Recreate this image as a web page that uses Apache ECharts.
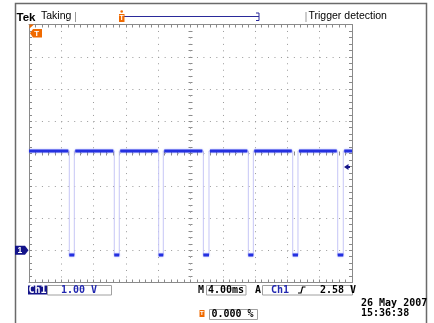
<!DOCTYPE html>
<html>
<head>
<meta charset="utf-8">
<script src="https://cdn.jsdelivr.net/npm/echarts@6/dist/echarts.min.js"></script>
<style>
html,body{margin:0;padding:0;background:#fff;}
#scope{width:434px;height:323px;}
</style>
</head>
<body>
<div id="scope"></div>
<script>
// screen: 10 div x 4.00 ms, 8 div x 1.00 V, ground one div above the bottom
var timeRange=[0,40];
var voltRange=[-1,7];
var highLevel=3.08;
var lowLevel=-0.15;
// edges (ms)
var fallTimes=[4.99,10.56,16.06,21.59,27.16,32.66,38.23];
var riseTimes=[5.61,11.18,16.63,22.29,27.78,33.31,38.92];
var triggerLevel=2.58;
var groundLevel=0;
var headerText=['Tek','Taking','Trigger detection'];
var readoutText=['Ch1','1.00 V','M','4.00ms','A','Ch1','2.58 V','0.000 %'];
var stampText=['26 May 2007','15:36:38'];

var gridGray='#8a8a8a', dotGray='#9a9a9a', navy='#14148a', orange='#f06a00';
var traceBlue='#2430e0', edgeBlue='#c6c6f6';
var gridBox={left:29,top:24.5,width:323,height:258};

var edgeData=[[timeRange[0],highLevel]];
var highData=[], lowData=[];
var start=timeRange[0];
for(var i=0;i<fallTimes.length;i++){
    edgeData.push([fallTimes[i],highLevel],[fallTimes[i],lowLevel],[riseTimes[i],lowLevel],[riseTimes[i],highLevel]);
    highData.push([start,highLevel],[fallTimes[i]-0.12,highLevel],['-','-']);
    lowData.push([fallTimes[i],lowLevel],[riseTimes[i],lowLevel],['-','-']);
    start=riseTimes[i]+0.12;
}
highData.push([start,highLevel],[timeRange[1],highLevel]);
edgeData.push([timeRange[1],highLevel]);

function frameAxis(pos,range,interval,split){
    return {
        type:'value',position:pos,min:range[0],max:range[1],interval:interval,
        axisLine:{show:true,onZero:false,lineStyle:{color:gridGray,width:1}},
        axisTick:{show:true,inside:true,length:3,lineStyle:{color:gridGray}},
        minorTick:{show:true,splitNumber:5,length:3,lineStyle:{color:gridGray}},
        axisLabel:{show:false},
        splitLine:{show:split,lineStyle:{color:dotGray,width:1,type:[1,5.46]}},
        minorSplitLine:{show:false}
    };
}
// tick rows along the centre cross, pulled in from the frame
function centerAxis(pos,range,interval,inside,offset){
    return {
        type:'value',position:pos,offset:offset,min:range[0],max:range[1],interval:interval,
        axisLine:{show:false,onZero:false},
        axisTick:{show:true,inside:inside,length:2,lineStyle:{color:gridGray}},
        minorTick:{show:true,splitNumber:5,length:2,lineStyle:{color:gridGray}},
        axisLabel:{show:false},
        splitLine:{show:false}
    };
}

var chart=echarts.init(document.getElementById('scope'),null,{renderer:'canvas'});

var monoFont='DejaVu Sans Mono';
function txt(x,y,s,color,size,family,weight,z){
    return {type:'text',x:x,y:y,style:{text:s,fill:color,font:(weight||'normal')+' '+size+'px "'+family+'"',verticalAlign:'middle'},z:z||10};
}
function box(x,y,w,h){
    return {type:'rect',shape:{x:x,y:y,width:w,height:h},style:{fill:'#fff',stroke:'#a0a0a0',lineWidth:1},z:9};
}

var staticGraphics=[
    // outer frame
    {type:'polyline',shape:{points:[[15.5,330],[15.5,3.5],[426.5,3.5],[426.5,330]]},style:{stroke:'#6a6a6a',lineWidth:1.5,fill:null},z:5},
    txt(16.5,17.6,headerText[0],'#000',11.5,'Liberation Sans','bold'),
    txt(41,16.6,headerText[1],'#000',10.5,'Liberation Sans'),
    {type:'line',shape:{x1:75.5,y1:12,x2:75.5,y2:22},style:{stroke:'#999',lineWidth:1},z:10},
    {type:'line',shape:{x1:306,y1:12,x2:306,y2:22},style:{stroke:'#999',lineWidth:1},z:10},
    txt(308.5,16.6,headerText[2],'#000',10.5,'Liberation Sans'),
    // record bar
    {type:'line',shape:{x1:124,y1:16.5,x2:259,y2:16.5},style:{stroke:'#2a2a9a',lineWidth:1},z:10},
    {type:'polyline',shape:{points:[[256,13],[259,13],[259,20.5],[256,20.5]]},style:{stroke:'#2a2a9a',lineWidth:1,fill:null},z:10},
    {type:'rect',shape:{x:119,y:14,width:5.5,height:8},style:{fill:orange},z:10},
    {type:'circle',shape:{cx:121.7,cy:11.5,r:1.3},style:{fill:orange},z:10},
    txt(119.6,18.3,'T','#fff',7,'Liberation Sans','bold',13),
    // trigger position marker in graticule
    {type:'polygon',shape:{points:[[29.5,24.5],[34,24.5],[29.5,28.5]]},style:{fill:orange},z:12},
    {type:'polygon',shape:{points:[[30,33.3],[33,29],[42,29],[42,37.6],[33,37.6]]},style:{fill:orange},z:12},
    txt(34.2,33.5,'T','#fff',8,'Liberation Sans','bold',13),
    // bottom readouts
    {type:'rect',shape:{x:28,y:285.5,width:19,height:9},style:{fill:navy},z:10},
    txt(28.5,290.2,readoutText[0],'#fff',10,monoFont,'bold',13),
    box(47.5,285.5,64,9.5),
    txt(61,290.2,readoutText[1],'#2228b0',10,monoFont,'bold'),
    txt(198,290.2,readoutText[2],'#000',10,monoFont,'bold'),
    box(206.5,285.5,39.5,9.5),
    txt(208,290.2,readoutText[3],'#000',10,monoFont,'bold'),
    txt(255,290.2,readoutText[4],'#000',10,monoFont,'bold'),
    box(262.5,285.5,90,9.5),
    txt(271,290.2,readoutText[5],'#2228b0',10,monoFont,'bold'),
    {type:'polyline',shape:{points:[[298,293],[301,293],[302.5,287],[305.5,287]]},style:{stroke:'#000',lineWidth:1.2,fill:null},z:10},
    txt(320,290.2,readoutText[6],'#000',10,monoFont,'bold'),
    {type:'rect',shape:{x:199.5,y:310,width:5,height:7},style:{fill:orange},z:10},
    txt(200.1,313.7,'T','#fff',6,'Liberation Sans','bold',13),
    box(209.5,309.5,48,10),
    txt(211.5,314.5,readoutText[7],'#000',10,monoFont,'bold'),
    txt(361,303.8,stampText[0],'#000',10,monoFont,'bold'),
    txt(361,313.6,stampText[1],'#000',10,monoFont,'bold')
];

var option={
    animation:false,
    backgroundColor:'#fff',
    grid:{left:gridBox.left,top:gridBox.top,width:gridBox.width,height:gridBox.height,show:false,containLabel:false,outerBoundsMode:'none'},
    xAxis:[
        frameAxis('bottom',timeRange,4,true),
        frameAxis('top',timeRange,4,false),
        centerAxis('bottom',timeRange,4,true,-gridBox.height/2),
        centerAxis('bottom',timeRange,4,false,-gridBox.height/2)
    ],
    yAxis:[
        frameAxis('left',voltRange,1,true),
        frameAxis('right',voltRange,1,false),
        centerAxis('left',voltRange,1,true,-gridBox.width/2),
        centerAxis('left',voltRange,1,false,-gridBox.width/2)
    ],
    series:[
        {name:'edges',type:'line',data:edgeData,xAxisIndex:0,yAxisIndex:0,showSymbol:false,
            lineStyle:{color:edgeBlue,width:1},z:3},
        {name:'high',type:'line',data:highData,xAxisIndex:0,yAxisIndex:0,showSymbol:false,connectNulls:false,
            lineStyle:{color:traceBlue,width:3,shadowColor:'rgba(90,100,255,0.6)',shadowBlur:2},z:4},
        {name:'low',type:'line',data:lowData,xAxisIndex:0,yAxisIndex:0,showSymbol:false,connectNulls:false,
            lineStyle:{color:traceBlue,width:3,shadowColor:'rgba(90,100,255,0.6)',shadowBlur:2},z:4}
    ],
    graphic:staticGraphics
};
chart.setOption(option);

// channel markers placed through the axes
var gnd=chart.convertToPixel({xAxisIndex:0,yAxisIndex:0},[timeRange[0],groundLevel]);
var trg=chart.convertToPixel({xAxisIndex:0,yAxisIndex:0},[timeRange[1],triggerLevel]);
chart.setOption({graphic:staticGraphics.concat([
    {type:'polygon',shape:{points:[[gnd[0]-14,gnd[1]-4.5],[gnd[0]-4,gnd[1]-4.5],[gnd[0]-0.5,gnd[1]],[gnd[0]-4,gnd[1]+4.5],[gnd[0]-14,gnd[1]+4.5]]},style:{fill:navy},z:12},
    txt(gnd[0]-11.5,gnd[1]+0.3,'1','#fff',8.5,'Liberation Sans','bold',13),
    {type:'polygon',shape:{points:[[trg[0]-8,trg[1]],[trg[0]-3.5,trg[1]-3],[trg[0]-3.5,trg[1]+3]]},style:{fill:navy},z:12},
    {type:'rect',shape:{x:trg[0]-4,y:trg[1]-1,width:2,height:2},style:{fill:navy},z:12}
])},{replaceMerge:['graphic']});
</script>
</body>
</html>
